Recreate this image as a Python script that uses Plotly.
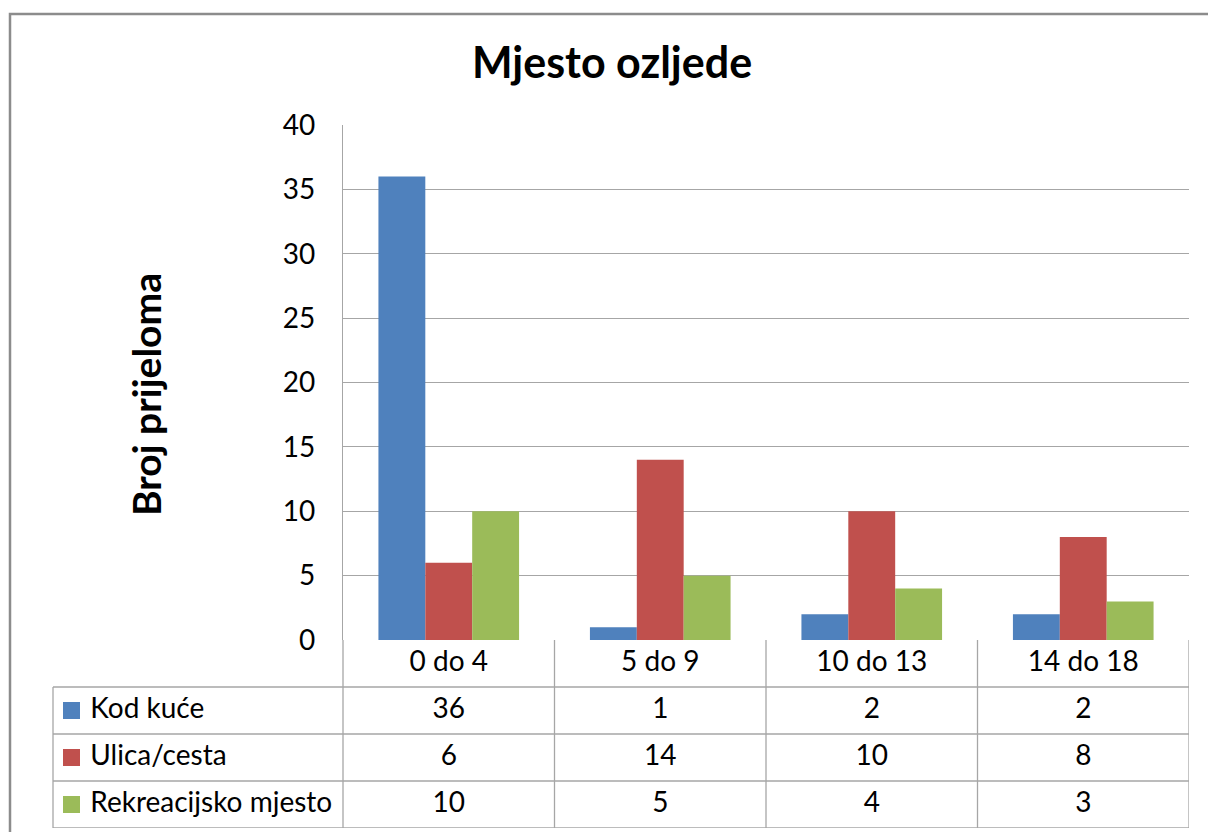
import plotly.graph_objects as go

# data
categories = ["0 do 4", "5 do 9", "10 do 13", "14 do 18"]
series_names = ["Kod kuće", "Ulica/cesta", "Rekreacijsko mjesto"]
kod_kuce = [36, 1, 2, 2]
ulica_cesta = [6, 14, 10, 8]
rekreacijsko = [10, 5, 4, 3]
y_ticks = [0, 5, 10, 15, 20, 25, 30, 35, 40]

series_values = [kod_kuce, ulica_cesta, rekreacijsko]
colors = ["#4F81BD", "#C0504D", "#9BBB59"]

W, H = 1208, 832
FONT = "Lato"
GRID = "#a6a6a6"
TXT = 28

def px(x):
    return x / W

def py(y):
    return 1 - y / H

fig = go.Figure()

# bars
for name, vals, col in zip(series_names, series_values, colors):
    fig.add_trace(go.Bar(x=categories, y=vals, name=name, marker_color=col,
                         marker_line_width=0, showlegend=False,
                         xaxis="x", yaxis="y"))

# data table: category header row (row 0) + one row per series
fig.add_trace(go.Scatter(x=categories, y=[0] * len(categories), mode="text",
                         text=categories, textposition="middle center",
                         textfont=dict(family=FONT, size=TXT, color="#000"),
                         showlegend=False, hoverinfo="skip",
                         xaxis="x", yaxis="y2"))
for i, vals in enumerate(series_values):
    fig.add_trace(go.Scatter(x=categories, y=[i + 1] * len(categories), mode="text",
                             text=[str(v) for v in vals], textposition="middle center",
                             textfont=dict(family=FONT, size=TXT, color="#000"),
                             showlegend=False, hoverinfo="skip",
                             xaxis="x", yaxis="y2"))

# legend keys + labels in the table's first column
for i, (name, col) in enumerate(zip(series_names, colors)):
    fig.add_trace(go.Scatter(x=[18.5], y=[i + 1], mode="markers+text",
                             marker=dict(symbol="square", size=17, color=col),
                             text=[" " + name], textposition="middle right",
                             textfont=dict(family=FONT, size=TXT, color="#000"),
                             showlegend=False, hoverinfo="skip",
                             xaxis="x2", yaxis="y2"))

shapes = []
line = dict(color=GRID, width=1.3)
# outer chart border
shapes.append(dict(type="rect", xref="paper", yref="paper",
                   x0=px(10), x1=px(1240), y0=py(870), y1=py(14),
                   line=dict(color="#8c8c8c", width=2.5)))
# table horizontal lines
for b in [0.5, 1.5, 2.5, 3.5]:
    shapes.append(dict(type="line", xref="paper", yref="y2",
                       x0=px(53), x1=px(1189), y0=b, y1=b, line=line))
# table verticals
shapes.append(dict(type="line", xref="paper", yref="y2",
                   x0=px(53), x1=px(53), y0=0.5, y1=3.5, line=line))
shapes.append(dict(type="line", xref="paper", yref="y2",
                   x0=px(343), x1=px(343), y0=-0.5, y1=3.5, line=line))
for b in [0.5, 1.5, 2.5, 3.5]:
    shapes.append(dict(type="line", xref="x", yref="y2",
                       x0=b, x1=b, y0=-0.5, y1=3.5, line=line))

fig.update_layout(
    width=W, height=H,
    margin=dict(l=0, r=0, t=0, b=0, autoexpand=False),
    paper_bgcolor="white", plot_bgcolor="white",
    barmode="group", bargap=0.335, bargroupgap=0,
    font=dict(family=FONT, size=TXT, color="#000"),
    shapes=shapes,
    annotations=[
        dict(text="<b>Mjesto ozljede</b>", xref="paper", yref="paper",
             x=px(612), y=py(62), xanchor="center", yanchor="middle",
             showarrow=False, font=dict(family=FONT, size=43, color="#000")),
        dict(text="<b>Broj prijeloma</b>", xref="paper", yref="paper",
             x=px(146), y=py(395), xanchor="center", yanchor="middle",
             showarrow=False, textangle=-90,
             font=dict(family=FONT, size=39, color="#000")),
    ],
    xaxis=dict(domain=[px(343), px(1189)], range=[-0.5, 3.5],
               showticklabels=False, showgrid=False, zeroline=False,
               showline=False, anchor="y", fixedrange=True),
    yaxis=dict(domain=[py(640), py(125)], range=[0, 40],
               tickvals=y_ticks, ticks="", ticklabelstandoff=21,
               tickfont=dict(family=FONT, size=TXT, color="#000"),
               showgrid=True, gridcolor=GRID, gridwidth=1.3,
               zeroline=False, showline=True, linecolor=GRID, linewidth=1.3,
               anchor="x", fixedrange=True),
    xaxis2=dict(domain=[px(53), px(343)], range=[0, 290], visible=False,
                anchor="y2", fixedrange=True),
    yaxis2=dict(domain=[py(828), py(640)], range=[3.5, -0.5], visible=False,
                anchor="x", fixedrange=True),
)

fig.write_html("out.html", config={"displayModeBar": False},
               post_script="document.body.style.margin='0';")
